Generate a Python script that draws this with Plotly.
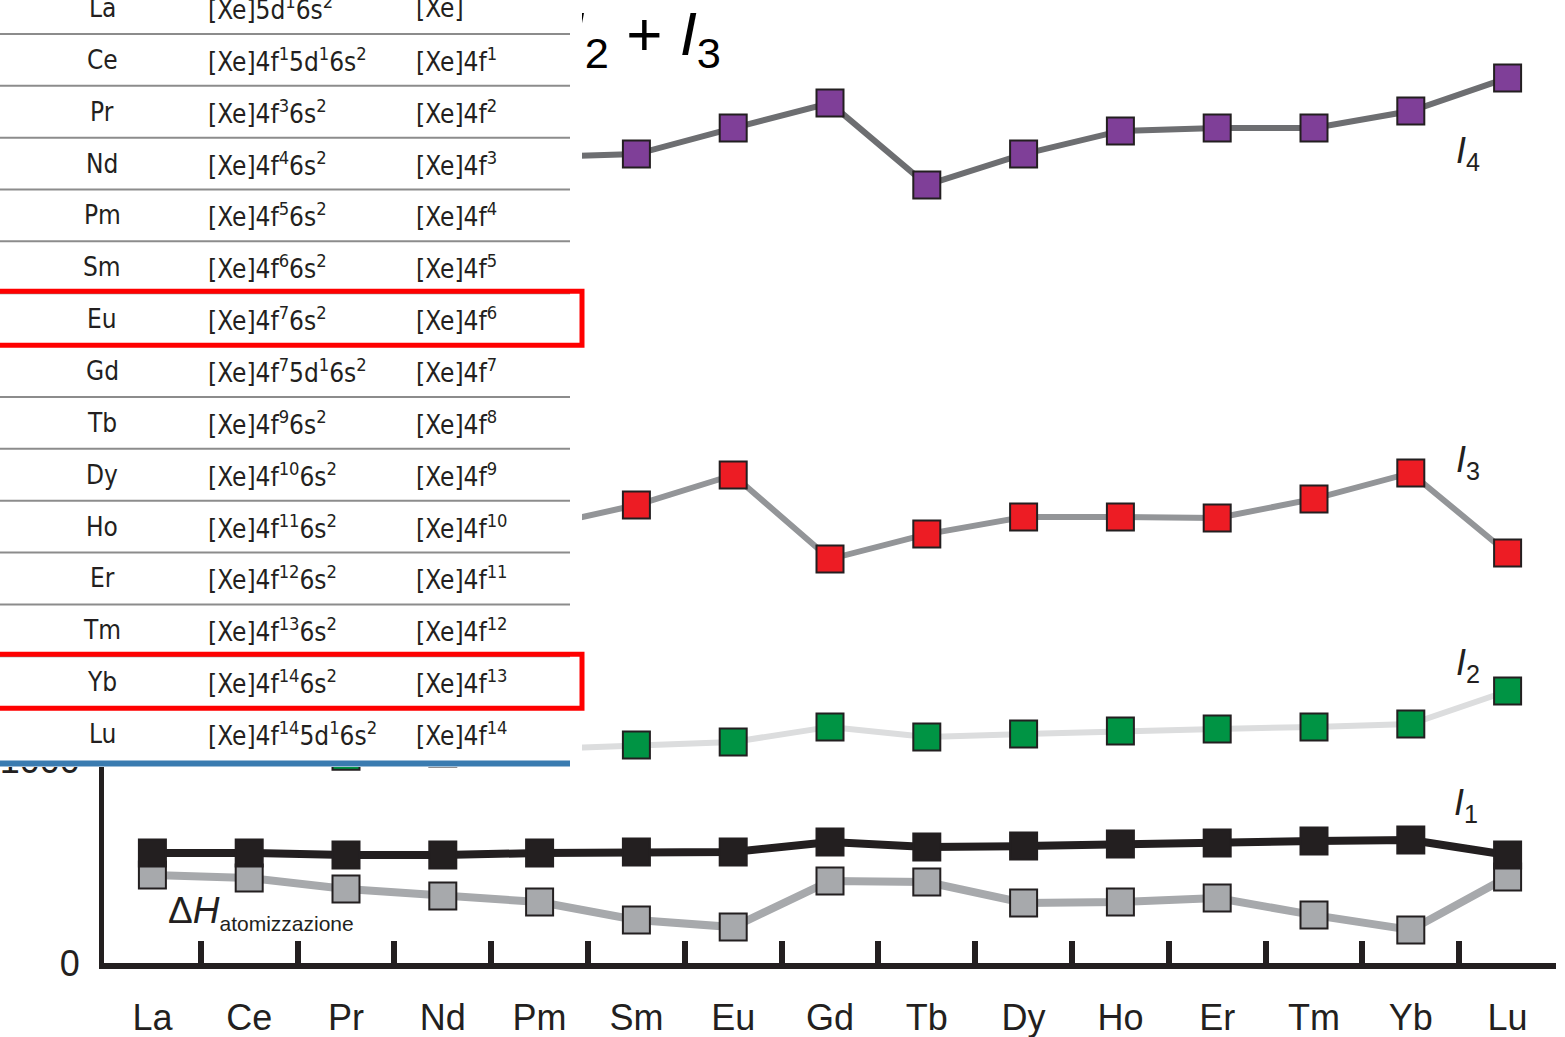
import plotly.graph_objects as go

# Lanthanide series
elements = ["La", "Ce", "Pr", "Nd", "Pm", "Sm", "Eu", "Gd", "Tb", "Dy", "Ho", "Er", "Tm", "Yb", "Lu"]

# Energies, kJ mol^-1
dH_atom = [433, 419, 365, 330, 300, 212, 177, 404, 399, 296, 300, 320, 236, 163, 424]
I1 = [542, 542, 532, 532, 542, 547, 547, 596, 571, 576, 586, 591, 601, 606, 532]
I2 = [1067, 1047, 1018, 1035, 1052, 1074, 1089, 1163, 1113, 1128, 1143, 1153, 1163, 1177, 1340]
I3 = [1850, 1949, 2086, 2130, 2150, 2256, 2404, 1990, 2113, 2197, 2197, 2192, 2286, 2414, 2020]
I4 = [4819, 3547, 3761, 3899, 3970, 3985, 4113, 4236, 3833, 3985, 4099, 4113, 4113, 4197, 4360]

y_ticks = [0, 1000, 2000, 3000, 4000]

# Electron configurations: neutral atom and M3+ ion
atom_config = [
    "[Xe]5d<sup>1</sup>6s<sup>2</sup>",
    "[Xe]4f<sup>1</sup>5d<sup>1</sup>6s<sup>2</sup>",
    "[Xe]4f<sup>3</sup>6s<sup>2</sup>",
    "[Xe]4f<sup>4</sup>6s<sup>2</sup>",
    "[Xe]4f<sup>5</sup>6s<sup>2</sup>",
    "[Xe]4f<sup>6</sup>6s<sup>2</sup>",
    "[Xe]4f<sup>7</sup>6s<sup>2</sup>",
    "[Xe]4f<sup>7</sup>5d<sup>1</sup>6s<sup>2</sup>",
    "[Xe]4f<sup>9</sup>6s<sup>2</sup>",
    "[Xe]4f<sup>10</sup>6s<sup>2</sup>",
    "[Xe]4f<sup>11</sup>6s<sup>2</sup>",
    "[Xe]4f<sup>12</sup>6s<sup>2</sup>",
    "[Xe]4f<sup>13</sup>6s<sup>2</sup>",
    "[Xe]4f<sup>14</sup>6s<sup>2</sup>",
    "[Xe]4f<sup>14</sup>5d<sup>1</sup>6s<sup>2</sup>",
]
ion_config = ["[Xe]"] + ["[Xe]4f<sup>%d</sup>" % n for n in range(1, 15)]
highlighted = ["Eu", "Yb"]

# ---- geometry (figure pixels) ----
W, H = 1565, 1037
PX_LEFT, PX_RIGHT = 104, 1556      # plot area horizontal extent
PX_BOTTOM = 963                    # y = 0
PX_PER_KJ = 0.203
y_max = PX_BOTTOM / PX_PER_KJ

INK = "#231f20"
SANS = "Liberation Sans, Arial, Helvetica, sans-serif"
NARROW = "Liberation Sans Narrow, DejaVu Sans Condensed, Arial Narrow, Liberation Sans, sans-serif"


def px(x):
    return x / W


def py(y):
    return 1 - y / H


def cat_x(x_pixel):
    return (x_pixel - PX_LEFT) / ((PX_RIGHT - PX_LEFT) / len(elements)) - 0.5


def val_y(y_pixel):
    return (PX_BOTTOM - y_pixel) / PX_PER_KJ


fig = go.Figure()

series = [
    (I4, "#6d6e71", 6, "#7f3f98"),
    (I3, "#939598", 6, "#ed1c24"),
    (I2, "#dcddde", 6, "#009444"),
    (dH_atom, "#a7a9ac", 8, "#a7a9ac"),
    (I1, INK, 8, INK),
]
for values, line_col, lw, fill in series:
    fig.add_trace(go.Scatter(
        x=elements, y=values, mode="lines+markers",
        line=dict(color=line_col, width=lw),
        marker=dict(symbol="square", size=27, color=fill, line=dict(color=INK, width=2)),
        hoverinfo="skip",
    ))

# Header of the energy sum, running behind the configuration table
fig.add_trace(go.Scatter(
    x=[cat_x(721)], y=[val_y(39)], mode="text", xaxis="x2", yaxis="y",
    text=["<i>I</i><sub>1</sub> + <i>I</i><sub>2</sub> + <i>I</i><sub>3</sub>"],
    textposition="middle left",
    textfont=dict(family=SANS, size=62, color="#000000"),
    hoverinfo="skip",
))

# Series labels
labels = [
    ("<i>I</i><sub>4</sub>", 1468, 153),
    ("<i>I</i><sub>3</sub>", 1468, 462),
    ("<i>I</i><sub>2</sub>", 1468, 665),
    ("<i>I</i><sub>1</sub>", 1466, 805),
]
annotations = []
for txt, xp, yp in labels:
    annotations.append(dict(
        x=cat_x(xp), y=val_y(yp), xref="x2", yref="y", text=txt, showarrow=False,
        font=dict(family=SANS, size=36, color=INK),
    ))
annotations.append(dict(
    x=cat_x(166), y=val_y(912), xref="x2", yref="y", xanchor="left",
    text="Δ<i>H</i><sub><span style='font-size:21px'>atomizzazione</span></sub>",
    showarrow=False, font=dict(family=SANS, size=37, color=INK),
))

# ---- configuration table laid over the left part of the chart ----
ROW0, ROW_H = 8, 51.86
TABLE_RIGHT, COVER_RIGHT = 570, 582
shapes = [dict(type="rect", xref="paper", yref="paper", layer="above",
               x0=px(-2), x1=px(COVER_RIGHT), y0=py(-2), y1=py(767),
               fillcolor="white", line=dict(width=0))]
for i, el in enumerate(elements):
    yc = ROW0 + i * ROW_H
    annotations.append(dict(x=px(102), y=py(yc), xref="paper", yref="paper", text=el,
                            showarrow=False, xanchor="center", yanchor="middle",
                            font=dict(family=NARROW, size=26, color=INK)))
    annotations.append(dict(x=px(206), y=py(yc), xref="paper", yref="paper", text=atom_config[i],
                            showarrow=False, xanchor="left", yanchor="middle",
                            font=dict(family=NARROW, size=26, color=INK)))
    annotations.append(dict(x=px(414), y=py(yc), xref="paper", yref="paper", text=ion_config[i],
                            showarrow=False, xanchor="left", yanchor="middle",
                            font=dict(family=NARROW, size=26, color=INK)))
    if i < len(elements) - 1:
        ys = yc + ROW_H / 2
        shapes.append(dict(type="line", xref="paper", yref="paper", layer="above",
                           x0=0, x1=px(TABLE_RIGHT), y0=py(ys), y1=py(ys),
                           line=dict(color="#8c8c8c", width=2)))
shapes.append(dict(type="line", xref="paper", yref="paper", layer="above",
                   x0=0, x1=px(TABLE_RIGHT), y0=py(763.5), y1=py(763.5),
                   line=dict(color="#3a7bb0", width=6)))
for el in highlighted:
    yc = ROW0 + elements.index(el) * ROW_H
    shapes.append(dict(type="rect", xref="paper", yref="paper", layer="above",
                       x0=px(-6), x1=px(582), y0=py(yc - 28), y1=py(yc + 26),
                       line=dict(color="#ff0000", width=5), fillcolor="rgba(0,0,0,0)"))

fig.update_layout(
    width=W, height=H,
    margin=dict(l=0, r=0, t=0, b=0),
    paper_bgcolor="white", plot_bgcolor="white",
    showlegend=False,
    xaxis=dict(
        type="category", categoryorder="array", categoryarray=elements,
        domain=[PX_LEFT / W, PX_RIGHT / W], range=[-0.5, len(elements) - 0.5],
        tickson="boundaries", ticks="inside", ticklen=22, tickwidth=6, tickcolor=INK,
        showline=True, linewidth=6, linecolor=INK, showgrid=False, zeroline=False,
        tickfont=dict(family=SANS, size=36, color=INK), ticklabelstandoff=18,
        automargin=False,
    ),
    xaxis2=dict(overlaying="x", anchor="y", domain=[PX_LEFT / W, PX_RIGHT / W],
                range=[-0.5, len(elements) - 0.5], visible=False),
    yaxis=dict(
        domain=[(H - PX_BOTTOM) / H, 1], range=[0, y_max],
        tickvals=y_ticks, ticks="", showline=True, linewidth=5, linecolor=INK,
        showgrid=False, zeroline=False, ticklabelstandoff=12,
        tickfont=dict(family=SANS, size=36, color=INK), automargin=False,
    ),
    shapes=shapes,
    annotations=annotations,
)

fig.write_html("out.html")
